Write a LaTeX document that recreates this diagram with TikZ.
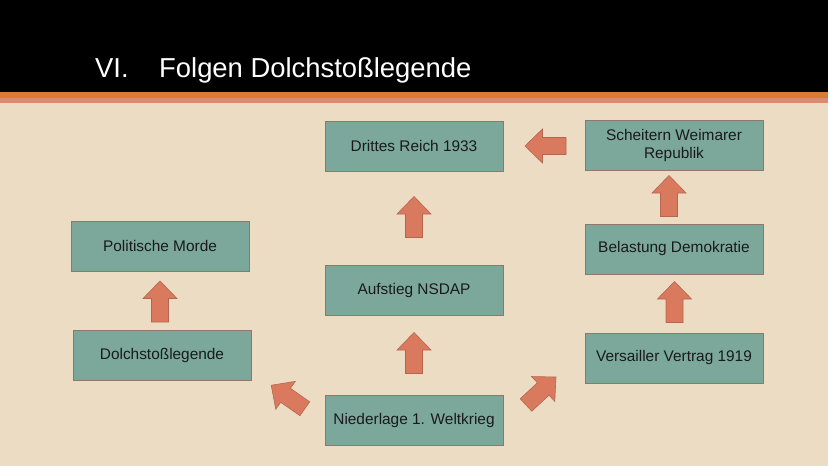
\documentclass[tikz,border=0pt]{standalone}
\usepackage{fontspec}
\setmainfont{Liberation Sans}
\definecolor{bgbeige}{HTML}{EBDCC3}
\definecolor{boxfill}{HTML}{7BA89B}
\definecolor{boxline}{HTML}{8C7A68}
\definecolor{arrfill}{HTML}{D97A5F}
\definecolor{arrline}{HTML}{B8654F}
\definecolor{stripeA}{HTML}{DB7A36}
\definecolor{stripeB}{HTML}{D88A72}
\definecolor{txt}{HTML}{1A1A1A}
\begin{document}
\begin{tikzpicture}[x=1pt,y=-1pt,
  stepbox/.style={draw=boxline,line width=0.8pt,fill=boxfill,minimum width=178pt,minimum height=50pt,
    inner sep=2pt,align=center,text=txt,font=\fontsize{15.4}{18}\selectfont},
  blockarrow/.style={draw=arrline,line width=0.6pt,fill=arrfill,line join=miter},
  titletext/.style={text=white,font=\fontsize{27.4}{30}\selectfont,inner sep=0pt,anchor=base west}]
\useasboundingbox (0,0) rectangle (828,466);
\fill[bgbeige] (0,0) rectangle (828,466);
\fill[black] (0,0) rectangle (828,92);
\fill[stripeA] (0,92) rectangle (828,97.5);
\fill[stripeB] (0,97.5) rectangle (828,103);
\node[titletext] (vi) at (95,77) {VI.};
\node[titletext] (title) at (159,77) {Folgen Dolchstoßlegende};
% boxes
\node[stepbox] (drittes) at (414,146) {Drittes Reich 1933};
\node[stepbox] (scheitern) at (674,145.5) {Scheitern Weimarer\\Republik};
\node[stepbox] (belastung) at (674,249) {Belastung Demokratie};
\node[stepbox] (versailler) at (674,358) {Versailler Vertrag 1919};
\node[stepbox] (politische) at (160,246) {Politische Morde};
\node[stepbox] (dolch) at (162,355.5) {Dolchstoßlegende};
\node[stepbox] (aufstieg) at (414,290.5) {Aufstieg NSDAP};
\node[stepbox] (niederlage) at (414,420.5) {Niederlage 1. Weltkrieg};
% block arrows
\newcommand{\blockarr}[3]{%
  \coordinate (#1) at #2;
  \draw[blockarrow,shift={(#1)},rotate=#3]
    (-20.5,-8.5) -- (3,-8.5) -- (3,-17) -- (20.5,0) -- (3,17) -- (3,8.5) -- (-20.5,8.5) -- cycle;}
\blockarr{a1}{(414,217)}{90}
\blockarr{a2}{(414,353)}{90}
\blockarr{a3}{(545.5,146)}{180}
\blockarr{a4}{(669,196)}{90}
\blockarr{a5}{(674.5,302)}{90}
\blockarr{a6}{(160,301.5)}{90}
\blockarr{a7}{(288,397)}{145}
\blockarr{a8}{(541,391)}{43}
\end{tikzpicture}
\end{document}
